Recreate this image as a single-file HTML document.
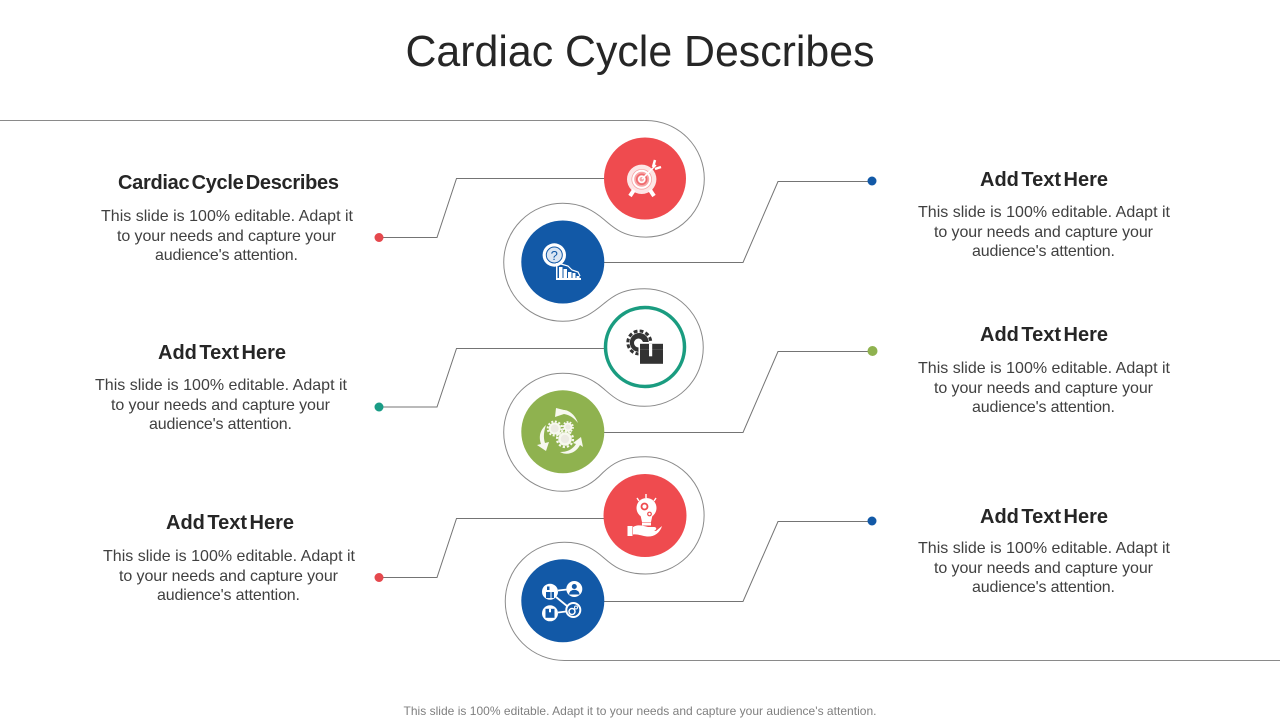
<!DOCTYPE html>
<html>
<head>
<meta charset="utf-8">
<style>
html,body{margin:0;padding:0;background:#fff;width:1280px;height:720px;overflow:hidden}
svg{display:block}
text{font-family:"Liberation Sans",sans-serif}
.h{font-size:20px;font-weight:bold;fill:#262626;text-anchor:middle;word-spacing:-3px}
.b{font-size:16px;fill:#404040;text-anchor:middle}
.l{fill:none;stroke:#747474;stroke-width:1}
.o{fill:none;stroke:#8a8a8a;stroke-width:1}
</style>
</head>
<body>
<svg width="1280" height="720" viewBox="0 0 1280 720" xmlns="http://www.w3.org/2000/svg">
<text x="640" y="66" text-anchor="middle" font-size="44" fill="#262626" textLength="469" lengthAdjust="spacingAndGlyphs">Cardiac Cycle Describes</text>

<path class="o" d="M0 120.500H646A58.300 58.300 0 0 1 646 237.100C622 237.100 612 226 604 219.500C595 212 583 203.300 562.700 203.300A59 59 0 0 0 562.700 321.300C583 321.300 595 311 604 303.500C612 297 622 288.700 644.500 288.700A58.800 58.800 0 0 1 644.500 406.300C622 406.300 612 396 604 389C595 381 583 373.300 562.700 373.300A59 59 0 0 0 562.700 491.300C583 491.300 595 481 603 472.500C612 464 622 456.700 645.500 456.700A58.650 58.650 0 0 1 645.500 574C622 574 612 565 604 558C595 550 585 542.300 564.300 542.300A59.100 59.100 0 0 0 564.300 660.500H1280"/>

<path class="l" d="M379 237.500H437L456.500 178.500H604"/>
<path class="l" d="M379 407H437L456.500 348.500H604"/>
<path class="l" d="M379 577.500H437L456.500 518.500H604"/>
<path class="l" d="M604 262.500H743L778 181.500H872"/>
<path class="l" d="M604 432.500H743L778 351.500H872"/>
<path class="l" d="M604 601.500H743L778 521.500H872"/>

<circle cx="379" cy="237.500" r="4.500" fill="#e5484d"/>
<circle cx="379" cy="407" r="4.500" fill="#1a9c86"/>
<circle cx="379" cy="577.500" r="4.500" fill="#e5484d"/>
<circle cx="872" cy="181" r="4.500" fill="#1259a7"/>
<circle cx="872.500" cy="351" r="5" fill="#8fb24f"/>
<circle cx="872" cy="521" r="4.500" fill="#1259a7"/>

<circle cx="645" cy="178.500" r="41" fill="#ef4b4f"/>
<circle cx="562.800" cy="262" r="41.500" fill="#1259a7"/>
<circle cx="645" cy="347" r="39.500" fill="#fff" stroke="#1a9c80" stroke-width="3.500"/>
<circle cx="562.800" cy="431.800" r="41.500" fill="#8fb24f"/>
<circle cx="645" cy="515.500" r="41.500" fill="#ef4b4f"/>
<circle cx="562.800" cy="600.800" r="41.500" fill="#1259a7"/>

<!-- target icon -->
<circle cx="641.700" cy="179.300" r="14.700" fill="#fde6e6"/>
<g fill="none">
<circle cx="641.700" cy="179.300" r="10.300" fill="#f7a6a8" stroke="none"/>
<circle cx="641.700" cy="179.300" r="8.500" stroke="#fff" stroke-width="2"/>
<circle cx="641.700" cy="179.300" r="5" stroke="#ef6a6d" stroke-width="1.500"/>
<circle cx="641.700" cy="179.300" r="3" stroke="#fff" stroke-width="1.500"/>
<path d="M642 179L656 165" stroke="#fff" stroke-width="1.500"/>
<path d="M653 167L655 160M655 169L661 167" stroke="#fff" stroke-width="2.500"/>
<path d="M634 190L630 196M650 190L654 196" stroke="#fff" stroke-width="4"/>
</g>

<!-- magnifier icon -->
<circle cx="554.300" cy="255" r="11.700" fill="#fff"/>
<circle cx="554.300" cy="255" r="8" fill="#dbe6f3" stroke="#1259a7" stroke-width="1"/>
<text x="554.300" y="260" font-size="13" fill="#1259a7" text-anchor="middle">?</text>
<g fill="#fff">
<path d="M556 263H557.500V278H581V280H556Z"/>
<rect x="559" y="267" width="3.500" height="11"/>
<rect x="563.500" y="269" width="3.500" height="9"/>
<rect x="568" y="272" width="3.500" height="6"/>
<rect x="572.500" y="273" width="3" height="5"/>
<rect x="576.500" y="276" width="3" height="2"/>
</g>
<path d="M561 264L568 266L572 270L578 272L580 276" fill="none" stroke="#fff" stroke-width="1.200"/>

<!-- gear + box icon -->
<circle cx="639.300" cy="342.500" r="9.500" fill="#333"/>
<circle cx="639.300" cy="342.500" r="11.500" fill="none" stroke="#333" stroke-width="3" stroke-dasharray="3.800 2.220"/>
<circle cx="638.500" cy="343" r="4.500" fill="#fff"/>
<rect x="638.500" y="342" width="26" height="23" fill="#fff"/>
<rect x="640" y="343.800" width="23" height="20" fill="#333"/>
<path d="M640 349.500H663" stroke="#555" stroke-width="0.800"/>
<rect x="649" y="343.800" width="3.200" height="12.500" fill="#fff"/>

<!-- gears icon -->
<g fill="#ecebe2" stroke="#f7f8ef">
<circle cx="554.700" cy="428.500" r="5" stroke-width="2"/>
<circle cx="554.700" cy="428.500" r="7" fill="none" stroke-width="2" stroke-dasharray="2 1.660"/>
<circle cx="568" cy="427" r="3.500" stroke-width="1.800"/>
<circle cx="568" cy="427" r="5" fill="none" stroke-width="1.800" stroke-dasharray="1.800 1.340"/>
<circle cx="565" cy="439" r="5.500" stroke-width="2.500"/>
<circle cx="565" cy="439" r="8" fill="none" stroke-width="2.200" stroke-dasharray="2.200 1.990"/>
</g>
<g fill="#f7f8ef">
<path d="M556 408L555 417L564 414C570 415 574 418 578 423C575 414 568 410 564 410Z"/>
<path d="M546 425C539 431 539 438 541 444L537 445L546 451L549 442L545 443C543 437 544 431 546 425Z"/>
<path d="M560 452C567 456 576 453 580 445L583 447L581 437L573 443L576 444C572 450 567 452 560 452Z"/>
</g>

<!-- bulb hand icon -->
<g fill="#fff">
<circle cx="646.500" cy="508" r="10"/>
<path d="M640 513H653L651 522H642Z"/>
<rect x="642" y="522.500" width="9" height="3"/>
<rect x="627.500" y="526" width="5" height="10"/>
<path d="M633 527C638 524 644 526 648 527L654 527C657 527 657 530 654 530.500L656 531L662 526C660 533 654 537 647 536.500C642 536 638 534 633 534.500Z"/>
</g>
<g fill="none" stroke="#ef4b4f">
<circle cx="644.500" cy="506.500" r="3" stroke-width="1.800"/>
<circle cx="649.500" cy="514" r="1.800" stroke-width="1.200"/>
</g>
<path d="M637 498L639 501M646 494V498M656 498L654 501" stroke="#fff" stroke-width="1.400" fill="none"/>

<!-- network icon -->
<g stroke="#fff" stroke-width="1.800" fill="none">
<path d="M558 590.500L567 589.500M556 597L567 606M558 612.500L566 611.500"/>
</g>
<g fill="#fff">
<circle cx="550" cy="591.700" r="8"/>
<circle cx="574.300" cy="589" r="8"/>
<circle cx="550" cy="613.300" r="8"/>
<circle cx="573.300" cy="610" r="8"/>
</g>
<g fill="#1259a7">
<rect x="546" y="592" width="4.500" height="6"/>
<rect x="551.500" y="592" width="2.500" height="6"/>
<rect x="547" y="586.500" width="2.500" height="3.500"/>
<circle cx="574.300" cy="586.500" r="2.500"/>
<path d="M569 594.500A5.300 4.800 0 0 1 579.600 594.500Z"/>
<rect x="545.500" y="608.800" width="9" height="9"/>
<circle cx="573.300" cy="610" r="6" fill="#1259a7"/>
</g>
<rect x="549" y="608.800" width="2" height="3.500" fill="#fff"/>
<g fill="none" stroke="#fff">
<circle cx="572" cy="611.500" r="3" stroke-width="1.500"/>
<circle cx="576" cy="607.500" r="1.500" stroke-width="1"/>
</g>

<!-- left text -->
<text class="h" x="228.500" y="189" textLength="221" lengthAdjust="spacing">Cardiac Cycle Describes</text>
<text class="b" x="227" y="221" textLength="252" lengthAdjust="spacing">This slide is 100% editable. Adapt it</text>
<text class="b" x="226.500" y="241" textLength="219" lengthAdjust="spacing">to your needs and capture your</text>
<text class="b" x="226.500" y="260" textLength="143" lengthAdjust="spacing">audience's attention.</text>

<text class="h" x="222" y="359" textLength="128" lengthAdjust="spacing">Add Text Here</text>
<text class="b" x="221" y="390" textLength="252" lengthAdjust="spacing">This slide is 100% editable. Adapt it</text>
<text class="b" x="220.500" y="410" textLength="219" lengthAdjust="spacing">to your needs and capture your</text>
<text class="b" x="220.500" y="429" textLength="143" lengthAdjust="spacing">audience's attention.</text>

<text class="h" x="230" y="529" textLength="128" lengthAdjust="spacing">Add Text Here</text>
<text class="b" x="229" y="561" textLength="252" lengthAdjust="spacing">This slide is 100% editable. Adapt it</text>
<text class="b" x="228.500" y="581" textLength="219" lengthAdjust="spacing">to your needs and capture your</text>
<text class="b" x="228.500" y="600" textLength="143" lengthAdjust="spacing">audience's attention.</text>

<!-- right text -->
<text class="h" x="1044" y="186" textLength="128" lengthAdjust="spacing">Add Text Here</text>
<text class="b" x="1044" y="217" textLength="252" lengthAdjust="spacing">This slide is 100% editable. Adapt it</text>
<text class="b" x="1043.500" y="237" textLength="219" lengthAdjust="spacing">to your needs and capture your</text>
<text class="b" x="1043.500" y="256" textLength="143" lengthAdjust="spacing">audience's attention.</text>

<text class="h" x="1044" y="341" textLength="128" lengthAdjust="spacing">Add Text Here</text>
<text class="b" x="1044" y="373" textLength="252" lengthAdjust="spacing">This slide is 100% editable. Adapt it</text>
<text class="b" x="1043.500" y="393" textLength="219" lengthAdjust="spacing">to your needs and capture your</text>
<text class="b" x="1043.500" y="412" textLength="143" lengthAdjust="spacing">audience's attention.</text>

<text class="h" x="1044" y="523" textLength="128" lengthAdjust="spacing">Add Text Here</text>
<text class="b" x="1044" y="553" textLength="252" lengthAdjust="spacing">This slide is 100% editable. Adapt it</text>
<text class="b" x="1043.500" y="573" textLength="219" lengthAdjust="spacing">to your needs and capture your</text>
<text class="b" x="1043.500" y="592" textLength="143" lengthAdjust="spacing">audience's attention.</text>

<text x="640" y="715" text-anchor="middle" font-size="12" fill="#7f7f7f" textLength="473" lengthAdjust="spacing">This slide is 100% editable. Adapt it to your needs and capture your audience's attention.</text>
</svg>
</body>
</html>
